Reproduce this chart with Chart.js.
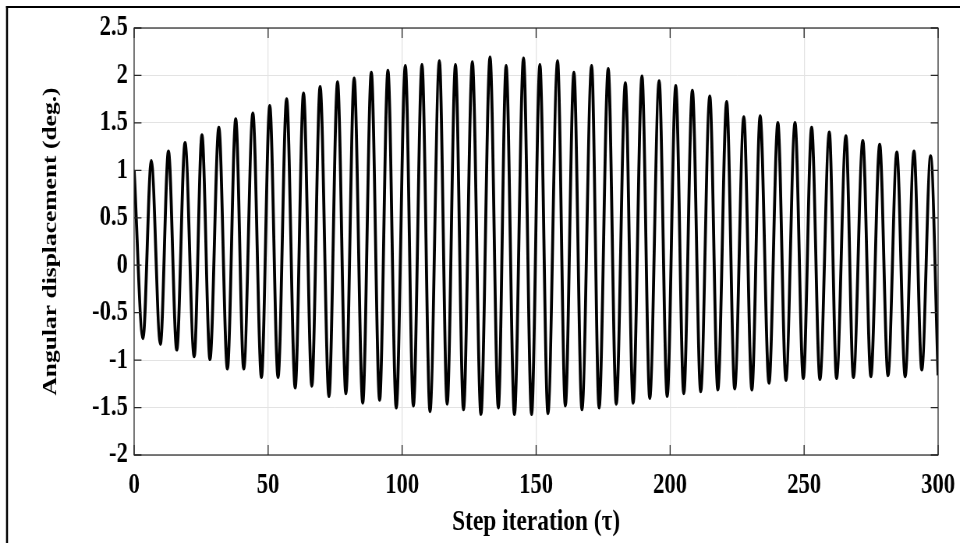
<!DOCTYPE html>
<html>
<head>
<meta charset="utf-8">
<title>Angular displacement</title>
<script src="https://cdn.jsdelivr.net/npm/chart.js@4.4.0/dist/chart.umd.min.js"></script>
<style>
  html, body { margin: 0; padding: 0; overflow: hidden; background: #fff; }
  /* the source figure is squeezed sideways, so draw wide and squeeze it too */
  #wrap { width: 1231px; height: 543px; transform: scaleX(0.7798); transform-origin: 0 0; }
</style>
</head>
<body>
<div id="wrap"><canvas id="chart" width="1231" height="543"></canvas></div>
<script>
// peaks and troughs of the response
const stepX = [
  0, 3.3, 6.4, 9.8, 12.8, 15.9, 19.0, 22.4, 25.3, 28.3,
  31.6, 34.8, 37.9, 40.9, 44.3, 47.5, 50.6, 53.7, 56.9, 60.1,
  63.2, 66.3, 69.4, 72.7, 75.9, 79.0, 82.1, 85.3, 88.5, 91.6,
  94.7, 97.8, 101.2, 104.2, 107.4, 110.4, 113.9, 116.8, 119.9, 122.9,
  126.2, 129.4, 132.8, 135.9, 138.8, 141.9, 145.3, 148.3, 151.4, 154.4,
  158.0, 160.9, 164.1, 167.1, 170.7, 173.5, 176.9, 179.9, 183.3, 186.2,
  189.5, 192.4, 195.9, 198.9, 202.1, 205.1, 208.3, 211.4, 214.8, 217.8,
  221.1, 224.1, 227.5, 230.5, 233.6, 236.9, 240.2, 243.2, 246.6, 249.7,
  252.8, 255.9, 259.4, 262.1, 265.6, 268.4, 271.9, 274.9, 278.2, 281.3,
  284.6, 287.7, 291.0, 293.9, 297.2, 300
];
const angleDeg = [
  1.00, -0.77, 1.10, -0.83, 1.20, -0.89, 1.29, -0.96, 1.37, -0.99,
  1.45, -1.09, 1.54, -1.09, 1.60, -1.18, 1.68, -1.18, 1.75, -1.29,
  1.81, -1.27, 1.88, -1.38, 1.93, -1.35, 1.97, -1.45, 2.03, -1.42,
  2.05, -1.50, 2.10, -1.48, 2.11, -1.54, 2.15, -1.46, 2.11, -1.52,
  2.14, -1.57, 2.19, -1.50, 2.10, -1.57, 2.18, -1.57, 2.11, -1.56,
  2.15, -1.48, 2.03, -1.52, 2.10, -1.50, 2.07, -1.46, 1.92, -1.45,
  1.99, -1.40, 1.94, -1.38, 1.89, -1.35, 1.84, -1.33, 1.78, -1.31,
  1.72, -1.30, 1.56, -1.31, 1.57, -1.24, 1.50, -1.21, 1.50, -1.19,
  1.45, -1.20, 1.40, -1.19, 1.36, -1.18, 1.31, -1.17, 1.27, -1.16,
  1.19, -1.17, 1.20, -1.10, 1.15, -1.16
];
const xTicks = [0, 50, 100, 150, 200, 250, 300];
const yTicks = [-2, -1.5, -1, -0.5, 0, 0.5, 1, 1.5, 2, 2.5];

const FONT = "'Liberation Serif', 'Times New Roman', serif";
const SX = 960 / 1231;

const points = stepX.map((x, i) => ({x: x, y: angleDeg[i]}));

// matlab look: frame around the figure, box round the axes, ticks pointing in
const matlabBox = {
  id: 'matlabBox',
  beforeDraw(chart) {
    const ctx = chart.ctx;
    ctx.save();
    ctx.fillStyle = '#000';
    ctx.fillRect(6 / SX, 6, 1231, 2);
    ctx.fillRect(6 / SX, 6, 2 / SX, 543);
    ctx.restore();
  },
  afterDraw(chart) {
    const {ctx, chartArea: a, scales} = chart;
    ctx.save();
    ctx.strokeStyle = '#262626';
    ctx.lineWidth = 1.2;
    ctx.strokeRect(a.left, a.top, a.right - a.left, a.bottom - a.top);
    ctx.beginPath();
    xTicks.forEach(v => {
      const px = scales.x.getPixelForValue(v);
      ctx.moveTo(px, a.bottom); ctx.lineTo(px, a.bottom - 10);
      ctx.moveTo(px, a.top); ctx.lineTo(px, a.top + 10);
    });
    yTicks.forEach(v => {
      const py = scales.y.getPixelForValue(v);
      ctx.moveTo(a.left, py); ctx.lineTo(a.left + 9.4, py);
      ctx.moveTo(a.right, py); ctx.lineTo(a.right - 9.4, py);
    });
    ctx.lineWidth = 1.3;
    ctx.stroke();
    ctx.restore();
  }
};

new Chart(document.getElementById('chart'), {
  type: 'line',
  data: {
    datasets: [{
      data: points,
      borderColor: '#000',
      borderWidth: 3.8,
      pointRadius: 0,
      fill: false,
      cubicInterpolationMode: 'monotone'
    }]
  },
  options: {
    responsive: false,
    animation: false,
    devicePixelRatio: 1,
    layout: { padding: { left: 0, right: 28, top: 28, bottom: 0 } },
    plugins: { legend: { display: false }, tooltip: { enabled: false } },
    scales: {
      x: {
        type: 'linear',
        min: 0,
        max: 300,
        afterBuildTicks: s => { s.ticks = xTicks.map(v => ({value: v})); },
        afterFit: s => { s.height = 88; s.paddingLeft = 0; s.paddingRight = 0; },
        grid: { color: '#e3e3e3', lineWidth: 1.3, drawTicks: false },
        border: { display: false },
        ticks: {
          autoSkip: false, maxRotation: 0, padding: 13, color: '#000',
          font: { family: FONT, size: 29, weight: 'bold' },
          callback: v => String(v)
        },
        title: {
          display: true, text: 'Step iteration (τ)', color: '#000',
          font: { family: FONT, size: 30, weight: 'bold' },
          padding: { top: 0, bottom: 3 }
        }
      },
      y: {
        type: 'linear',
        min: -2,
        max: 2.5,
        afterBuildTicks: s => { s.ticks = yTicks.map(v => ({value: v})); },
        afterFit: s => { s.width = 172; s.paddingTop = 0; s.paddingBottom = 0; },
        grid: { color: '#e3e3e3', lineWidth: 1, drawTicks: false },
        border: { display: false },
        ticks: {
          autoSkip: false, padding: 8, color: '#000',
          font: { family: FONT, size: 29, weight: 'bold' },
          callback: v => String(v)
        },
        title: {
          display: true, text: 'Angular displacement (deg.)', color: '#000',
          font: { family: FONT, size: 25.5, weight: 'bold' },
          padding: { top: 50, bottom: 0 }
        }
      }
    }
  },
  plugins: [matlabBox]
});
</script>
</body>
</html>
